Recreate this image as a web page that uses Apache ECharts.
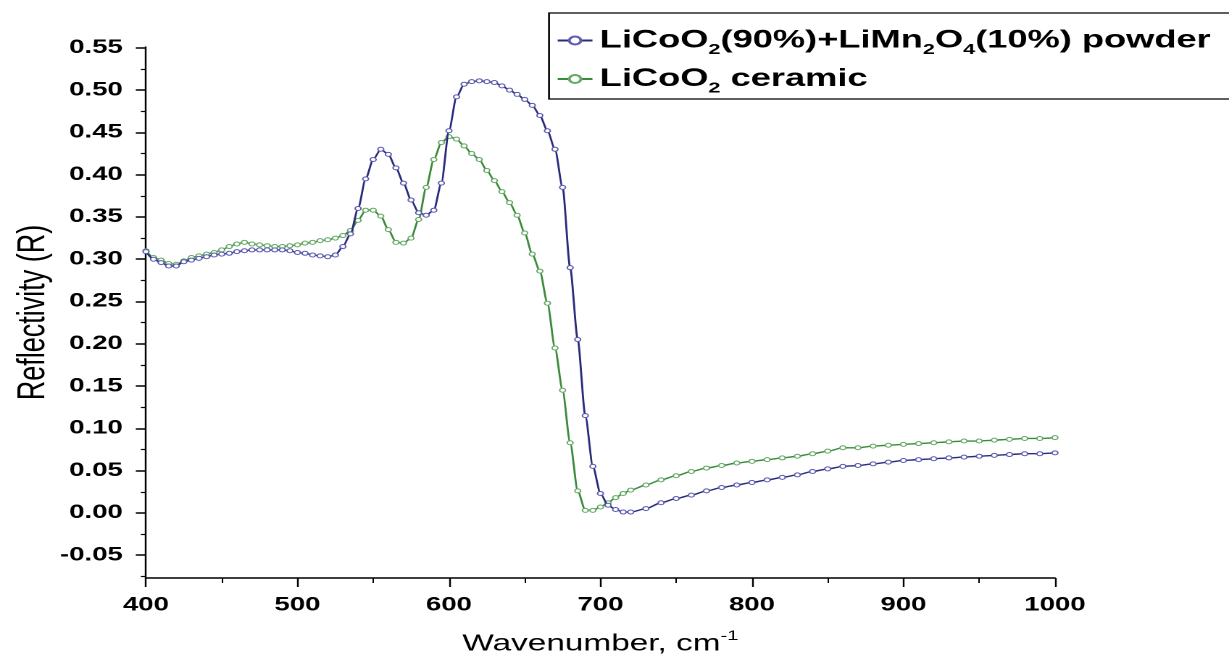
<!DOCTYPE html>
<html>
<head>
<meta charset="utf-8">
<script src="https://cdn.jsdelivr.net/npm/echarts@6/dist/echarts.min.js"></script>
<style>
html,body{margin:0;padding:0;background:#fff;overflow:hidden;width:1229px;height:662px;}
/* The reference figure is horizontally stretched; draw at a narrower width and stretch it the same way */
#chart{width:848px;height:662px;transform:scaleX(1.4493);transform-origin:0 0;}
</style>
</head>
<body>
<div id="chart"></div>
<script>
// Wavenumbers (cm^-1)
const wavenumbers = [
  400,405,410,415,420,425,430,435,440,445,450,455,460,465,470,475,480,485,490,495,
  500,505,510,515,520,525,530,535,540,545,550,555,560,565,570,575,580,585,590,595,
  600,605,610,615,620,625,630,635,640,645,650,655,660,665,670,675,680,685,690,695,
  700,705,710,715,720,730,740,750,760,770,780,790,800,810,820,830,840,850,860,870,
  880,890,900,910,920,930,940,950,960,970,980,990,1000
];
// LiCoO2(90%)+LiMn2O4(10%) powder
const powderR = [
  0.309,0.300,0.296,0.292,0.292,0.297,0.299,0.301,0.303,0.305,0.306,0.307,0.309,0.310,0.311,0.311,0.311,0.311,0.311,0.310,
  0.308,0.307,0.305,0.304,0.303,0.305,0.315,0.330,0.360,0.395,0.418,0.430,0.424,0.408,0.390,0.370,0.355,0.352,0.358,0.390,
  0.452,0.492,0.507,0.510,0.511,0.510,0.509,0.505,0.500,0.495,0.489,0.482,0.470,0.452,0.430,0.385,0.290,0.205,0.115,0.055,
  0.023,0.009,0.004,0.001,0.001,0.005,0.012,0.017,0.021,0.026,0.030,0.033,0.036,0.039,0.042,0.045,0.049,0.052,0.055,0.056,
  0.058,0.060,0.062,0.063,0.064,0.065,0.066,0.067,0.068,0.069,0.070,0.070,0.071
];
// LiCoO2 ceramic
const ceramicR = [
  0.310,0.302,0.299,0.295,0.294,0.298,0.302,0.304,0.306,0.308,0.311,0.315,0.318,0.320,0.318,0.317,0.316,0.315,0.315,0.316,
  0.317,0.319,0.320,0.322,0.323,0.325,0.328,0.334,0.346,0.358,0.358,0.351,0.335,0.320,0.319,0.325,0.347,0.385,0.418,0.438,
  0.445,0.442,0.434,0.425,0.418,0.405,0.393,0.380,0.367,0.352,0.331,0.306,0.286,0.248,0.195,0.145,0.083,0.026,0.003,0.003,
  0.007,0.012,0.018,0.023,0.027,0.033,0.039,0.044,0.049,0.053,0.056,0.059,0.061,0.063,0.065,0.067,0.070,0.073,0.077,0.077,
  0.079,0.080,0.081,0.082,0.083,0.084,0.085,0.085,0.086,0.087,0.088,0.088,0.089
];
const yMajorTicks = [-0.05,0,0.05,0.10,0.15,0.20,0.25,0.30,0.35,0.40,0.45,0.50,0.55];
const yMinorTicks = [-0.075,-0.025,0.025,0.075,0.125,0.175,0.225,0.275,0.325,0.375,0.425,0.475,0.525];

const FONT = "'Liberation Sans', Arial, sans-serif";
const chart = echarts.init(document.getElementById('chart'), null, { devicePixelRatio: 2 });

const zip = (xs, ys) => xs.map((x, i) => [x, ys[i]]);

const option = {
  backgroundColor: '#fff',
  animation: false,
  grid: { left: 100.7, right: 120.1, top: 47, bottom: 84, containLabel: false, outerBoundsMode: 'none' },
  legend: {
    orient: 'vertical',
    left: 378.8, top: 13,
    padding: [15, 40, 3, 5],
    itemGap: 9,
    itemWidth: 24, itemHeight: 10,
    borderColor: '#000', borderWidth: 1.3,
    backgroundColor: '#fff',
    data: ['powder', 'ceramic'],
    formatter: function (name) {
      if (name === 'powder') {
        return '{n|LiCoO}{s|2}{n|(90%)+LiMn}{s|2}{n|O}{s|4}{n|(10%) powder}';
      }
      return '{n|LiCoO}{s|2}{n| ceramic}';
    },
    textStyle: {
      rich: {
        n: { fontFamily: FONT, fontSize: 25, fontWeight: 'bold', color: '#000', lineHeight: 34 },
        s: { fontFamily: FONT, fontSize: 15, fontWeight: 'bold', color: '#000', lineHeight: 9, verticalAlign: 'bottom' }
      }
    }
  },
  xAxis: {
    type: 'value', min: 400, max: 1000, interval: 100,
    name: '{n|Wavenumber, cm}{p|-1}',
    nameLocation: 'middle', nameGap: 51, nameMoveOverlap: false,
    nameTextStyle: {
      rich: {
        n: { fontFamily: FONT, fontSize: 23, color: '#000', lineHeight: 30 },
        p: { fontFamily: FONT, fontSize: 14, color: '#000', lineHeight: 12, verticalAlign: 'top' }
      }
    },
    axisLine: { onZero: false, lineStyle: { color: '#000', width: 1.5 } },
    axisTick: { show: true, inside: false, length: 9, lineStyle: { color: '#000', width: 1.2 } },
    minorTick: { show: true, splitNumber: 2, length: 5, lineStyle: { color: '#000', width: 1 } },
    splitLine: { show: false },
    axisLabel: { fontFamily: FONT, fontSize: 19, fontWeight: 'bold', color: '#000', margin: 18,
      formatter: v => String(v) }
  },
  yAxis: [
    {
      type: 'value', min: -0.077, max: 0.551,
      name: 'Reflectivity (R)', nameLocation: 'middle', nameGap: 64, nameRotate: 90, nameMoveOverlap: false,
      nameTextStyle: { fontFamily: FONT, fontSize: 27, color: '#000' },
      axisLine: { show: true, onZero: false, lineStyle: { color: '#000', width: 1.2 } },
      axisTick: { show: true, inside: false, length: 7, customValues: yMajorTicks, lineStyle: { color: '#000', width: 1.5 } },
      splitLine: { show: false },
      axisLabel: {
        customValues: yMajorTicks,
        fontFamily: FONT, fontSize: 19, fontWeight: 'bold', color: '#000', margin: 16,
        formatter: v => v.toFixed(2)
      }
    },
    {
      type: 'value', min: -0.077, max: 0.551, position: 'left',
      axisLine: { show: false },
      axisTick: { show: true, inside: false, length: 3.5, customValues: yMinorTicks, lineStyle: { color: '#000', width: 1.2 } },
      axisLabel: { show: false, customValues: yMinorTicks },
      splitLine: { show: false }
    }
  ],
  series: [
    {
      name: 'powder', type: 'line', yAxisIndex: 0,
      data: zip(wavenumbers, powderR),
      smooth: 0.25, smoothMonotone: 'x',
      symbol: 'circle', symbolSize: 4, showSymbol: true,
      lineStyle: { color: '#2a2a7c', width: 1.4 },
      itemStyle: { color: '#ffffff', borderColor: '#5c5cb0', borderWidth: 1 },
      z: 3
    },
    {
      name: 'ceramic', type: 'line', yAxisIndex: 0,
      data: zip(wavenumbers, ceramicR),
      smooth: 0.25, smoothMonotone: 'x',
      symbol: 'circle', symbolSize: 4, showSymbol: true,
      lineStyle: { color: '#3a8a3a', width: 1.4 },
      itemStyle: { color: '#ffffff', borderColor: '#66aa66', borderWidth: 1 },
      z: 2
    }
  ]
};
chart.setOption(option);
</script>
</body>
</html>
